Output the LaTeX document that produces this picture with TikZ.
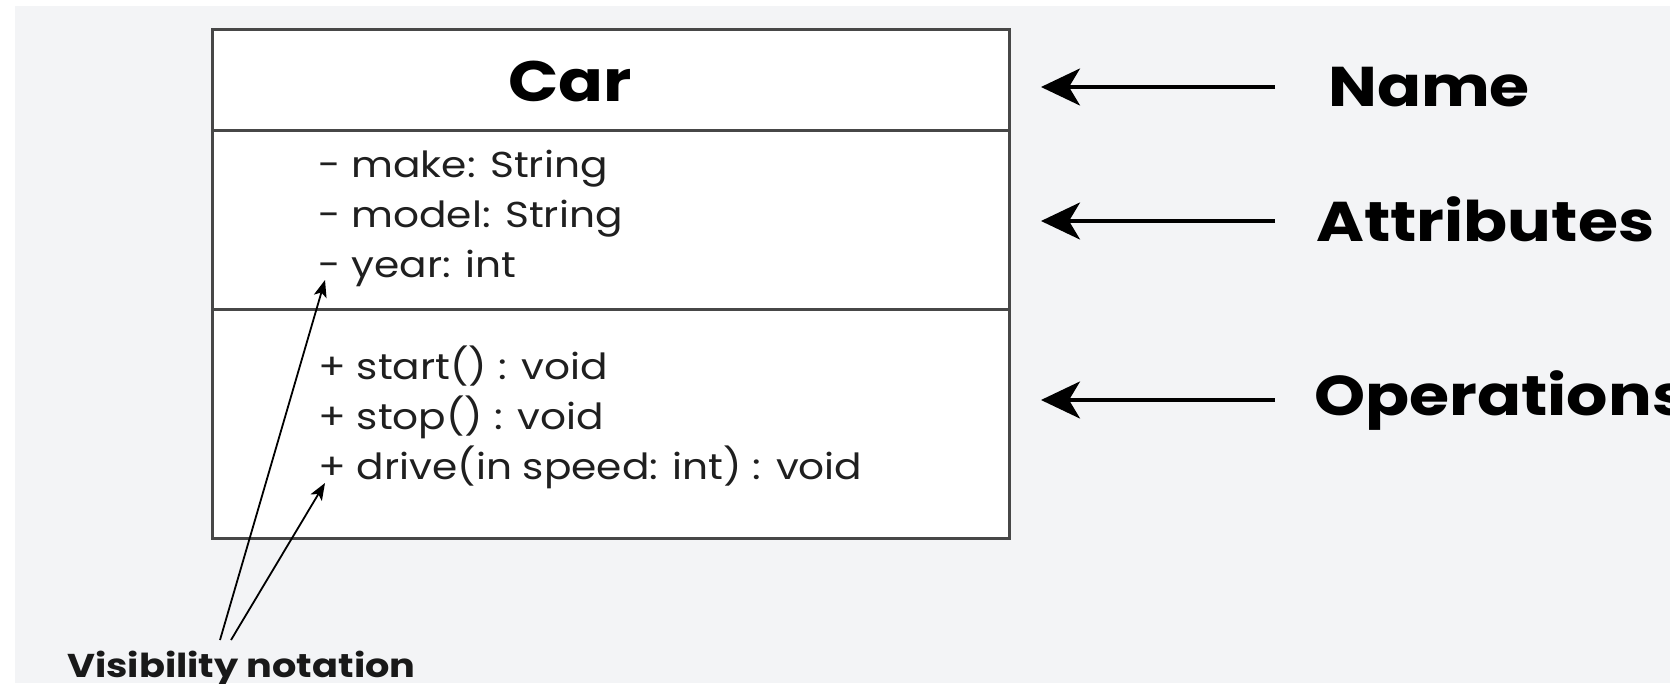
\documentclass[tikz,border=0pt]{standalone}
\usepackage{fontspec}
\setmainfont{Poppins}
\newfontfamily\widefont{Poppins}[FakeStretch=1.13]
\newfontfamily\widerfont{Poppins}[FakeStretch=1.16]
\usetikzlibrary{arrows.meta}
\definecolor{bgpanel}{HTML}{F3F4F6}
\definecolor{framegray}{HTML}{474747}
\tikzset{
  umlbox/.style={draw=framegray, line width=3pt, fill=white, inner sep=0pt},
  divider/.style={draw=framegray, line width=3pt},
  member/.style={anchor=base west, inner sep=0pt, font=\widefont\fontsize{36}{40}\selectfont, text=black!88},
  classname/.style={anchor=base, inner sep=0pt, font=\widerfont\bfseries\fontsize{57}{60}\selectfont},
  partlabel/.style={anchor=base west, inner sep=0pt, font=\widerfont\bfseries\fontsize{56}{60}\selectfont},
  notelabel/.style={anchor=base west, inner sep=0pt, font=\widerfont\bfseries\fontsize{33}{36}\selectfont, text=black!90},
  bigarrow/.style={line width=3.5pt, -{Stealth[length=39pt, width=37pt, inset=11pt]}},
  smallarrow/.style={line width=1.8pt, -{Stealth[length=17pt, width=13pt, inset=4pt]}}
}
\begin{document}
\begin{tikzpicture}[x=1pt, y=-1pt]
  % canvas
  \fill[white] (0,0) rectangle (1670,683);
  \fill[bgpanel] (15,6) rectangle (1670,683);
  \useasboundingbox (0,0) rectangle (1670,683);

  % class box with its three compartments
  \node[umlbox, minimum width=797pt, minimum height=509pt] (box) at (610.5,283.5) {};
  \draw[divider] (212,130) -- (1009,130);
  \draw[divider] (212,309) -- (1009,309);

  \node[classname] (car) at (570,101) {Car};

  \node[member] (make)  at (318,177) {- make: String};
  \node[member] (model) at (318,227) {- model: String};
  \node[member] (year)  at (318,277) {- year: int};

  \node[member] (start) at (318,379) {+ start() : void};
  \node[member] (stop)  at (318,429) {+ stop() : void};
  \node[member] (drive) at (318,479) {+ drive(in speed: int) : void};

  % compartment labels
  \node[partlabel] (lname)  at (1328,106) {Name};
  \node[partlabel] (lattr)  at (1316,241) {Attributes};
  \node[partlabel] (lops)   at (1314,415) {Operations};

  \coordinate (nameTail) at (1275,87);
  \coordinate (nameTip)  at (1041,87);
  \coordinate (attrTail) at (1275,221);
  \coordinate (attrTip)  at (1041,221);
  \coordinate (opsTail)  at (1275,400);
  \coordinate (opsTip)   at (1041,400);
  \draw[bigarrow] (nameTail) -- (nameTip);
  \draw[bigarrow] (attrTail) -- (attrTip);
  \draw[bigarrow] (opsTail) -- (opsTip);

  % visibility note
  \node[notelabel] (vis) at (67,677) {Visibility notation};
  \coordinate (visA) at (220,640);
  \coordinate (visB) at (231,640);
  \coordinate (minusTip) at (325,280);
  \coordinate (plusTip)  at (325,483);
  \draw[smallarrow] (visA) -- (minusTip);
  \draw[smallarrow] (visB) -- (plusTip);
\end{tikzpicture}
\end{document}
